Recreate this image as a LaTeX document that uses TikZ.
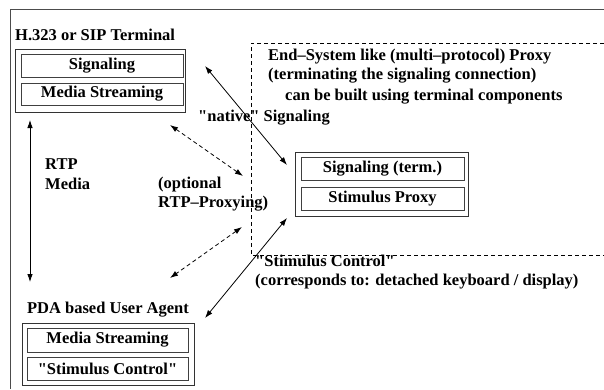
\documentclass[tikz,border=0pt]{standalone}
\usepackage{fontspec}
\setmainfont{Liberation Serif}[Ligatures=TeXOff]
\usetikzlibrary{arrows.meta}
\begin{document}
\begin{tikzpicture}[x=1pt,y=-1pt,
  lbl/.style={font=\bfseries\fontsize{16.5}{19.5}\selectfont,inner sep=0pt},
  boxtxt/.style={font=\bfseries\fontsize{16.5}{19}\selectfont},
  outerbox/.style={draw=black!80,line width=0.9pt,inner sep=0pt},
  innerbox/.style={draw=black!75,line width=0.8pt,inner sep=0pt,boxtxt},
  conn/.style={line width=0.8pt,{Latex[length=8pt,width=5.5pt]}-{Latex[length=8pt,width=5.5pt]}},
  dconn/.style={conn,dash pattern=on 4pt off 3pt}]
\useasboundingbox (0,0) rectangle (604,389);
% outer frame (top and left edges)
\draw[black!70,line width=0.8pt] (604,9) -- (10,9) -- (10,389);
% dashed proxy region
\draw[dash pattern=on 4pt off 3pt,line width=0.7pt] (604,43) -- (251,43) -- (251,255) -- (604,255);
% terminal
\node[lbl,anchor=west] (termlbl) at (15,35) {H.323 or SIP Terminal};
\node[outerbox,minimum width=170pt,minimum height=63pt] (term) at (100,80.5) {};
\node[innerbox,minimum width=162pt,minimum height=23pt] (termsig) at (102,65.5) {Signaling};
\node[innerbox,minimum width=162pt,minimum height=22pt] (termmed) at (102,94) {Media Streaming};
% proxy
\node[lbl,anchor=west,align=left] (proxlbl) at (268,66) {End–System like (multi–protocol) Proxy\\(terminating the signaling connection)};
\node[lbl,anchor=west] (proxlbl2) at (285,97) {can be built using terminal components};
\node[outerbox,minimum width=173pt,minimum height=64pt] (prox) at (381.5,184) {};
\node[innerbox,minimum width=163pt,minimum height=23pt] (proxsig) at (382.5,168.5) {Signaling (term.)};
\node[innerbox,minimum width=163pt,minimum height=23pt] (proxstim) at (382.5,198.5) {Stimulus Proxy};
% PDA
\node[lbl] (pdalbl) at (108,310) {PDA based User Agent};
\node[outerbox,minimum width=172pt,minimum height=62pt] (pda) at (108,354) {};
\node[innerbox,minimum width=161pt,minimum height=24pt] (pdamed) at (107.5,340) {Media Streaming};
\node[innerbox,minimum width=161pt,minimum height=23pt] (pdastim) at (107.5,368.5) {"Stimulus Control"};
% labels
\node[lbl,anchor=west,align=left] (rtp) at (45,174) {RTP\\Media};
\node[lbl,anchor=west] (native) at (198,118) {"native" Signaling};
\node[lbl,anchor=west,align=left] (opt) at (158,194) {(optional\\RTP–Proxying)};
\node[lbl,anchor=west,align=left] (stim) at (255,272) {"Stimulus Control"\\(corresponds to: detached keyboard / display)};
% connector endpoints
\coordinate (rA) at (30,120);
\coordinate (rB) at (30,282);
\coordinate (nA) at (205,66);
\coordinate (nB) at (287,165);
\coordinate (dA) at (170,125);
\coordinate (dB) at (243,176);
\coordinate (eA) at (242,227);
\coordinate (eB) at (170,278);
\coordinate (sA) at (287,218);
\coordinate (sB) at (205,318);
\draw[conn] (rA) -- (rB);
\draw[conn] (nA) -- (nB);
\draw[dconn] (dA) -- (dB);
\draw[dconn] (eA) -- (eB);
\draw[conn] (sA) -- (sB);
\end{tikzpicture}
\end{document}
